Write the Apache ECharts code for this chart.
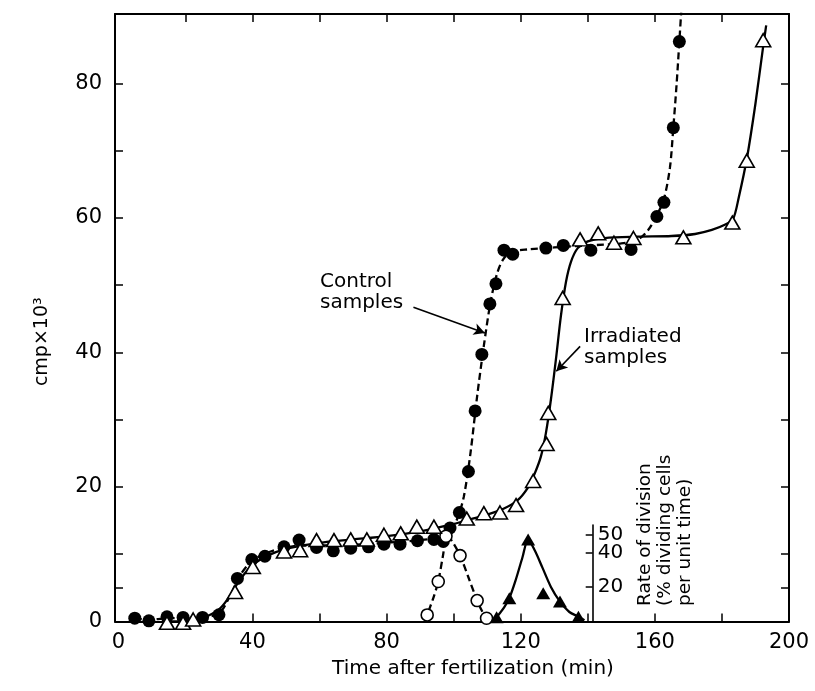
<!DOCTYPE html>
<html><head><meta charset="utf-8">
<script src="https://cdn.jsdelivr.net/npm/echarts@6/dist/echarts.min.js"></script>
<style>html,body{margin:0;padding:0;background:#fff}#c{width:815px;height:691px}</style>
</head><body><div id="c"></div>
<script>
// ---- data ----
const xLabelValues = [0, 40, 80, 120, 160, 200];
const xTickValues = [20, 40, 60, 80, 100, 120, 140, 160, 180];
const yLabelValues = [0, 20, 40, 60, 80];
const yTickValues = [5, 10, 20, 30, 40, 50, 60, 70, 80];
const rateTickValues = [20, 40, 50];
const rateLowerLabels = [20, 40];
const rateTopLabel = [50];

// Control samples (filled circles): [time min, cmp x 10^3]
const controlPoints = [[4.9,0.5],[9.1,0.1],[14.5,0.7],[19.3,0.6],[25.1,0.6],[30.0,1.0],[35.5,6.4],[39.8,9.2],[43.7,9.7],[49.4,11.1],[53.9,12.1],[59.1,11.0],[64.1,10.5],[69.3,10.9],[74.6,11.1],[79.2,11.5],[84.0,11.5],[89.2,12.0],[94.1,12.2],[96.9,11.9],[98.9,13.9],[101.7,16.2],[104.4,22.3],[106.4,31.3],[108.4,39.7],[110.8,47.2],[112.6,50.2],[115.0,55.2],[117.6,54.6],[127.5,55.5],[132.7,55.9],[140.9,55.2],[152.9,55.3],[160.6,60.2],[162.7,62.3],[165.5,73.4],[167.3,86.2]];
// Control fitted curve (dashed)
const controlCurve = [[4.9,0.4],[10,0.3],[15,0.5],[20,0.5],[25,0.6],[30,1.2],[33,3.5],[36,6.6],[39,8.6],[42,9.7],[46,10.5],[50,11.0],[55,11.3],[60,11.3],[70,11.4],[80,11.7],[90,12.1],[96,12.5],[99,13.5],[101,15.2],[103,18.5],[105,25],[107,33.5],[109,41],[111,47.5],[113,51.8],[115,54],[118,55],[122,55.3],[130,55.6],[140,55.9],[150,56.2],[155,56.8],[158,58.2],[160.5,60.3],[162.7,62.8],[164.5,67.5],[165.5,73.4],[166.5,80],[167.3,86.2],[167.9,91]];

// Irradiated samples (open triangles)
const irradiatedPoints = [[14.5,-0.2],[19.3,-0.2],[22.3,0.3],[34.8,4.4],[40.1,8.1],[49.4,10.4],[54.2,10.6],[59.1,12.1],[64.3,12.1],[69.3,12.2],[74.1,12.2],[79.2,12.9],[84.2,13.1],[89.0,14.1],[94.1,14.1],[103.9,15.3],[109.0,16.1],[113.8,16.2],[118.6,17.3],[123.7,20.9],[127.7,26.4],[128.2,31.0],[132.5,48.1],[137.7,56.8],[143.1,57.7],[147.8,56.3],[153.6,57.0],[168.5,57.1],[183.1,59.3],[187.4,68.5],[192.3,86.4]];
// Irradiated fitted curve (solid)
const irradiatedCurve = [[15,0],[20,0.1],[25,0.5],[30,1.8],[33,3.6],[36,6],[40,8.4],[45,9.9],[50,10.8],[55,11.3],[60,11.7],[70,12.2],[80,12.7],[90,13.4],[100,14.5],[105,15.2],[110,15.9],[115,16.8],[119,18],[122,19.8],[124,21.8],[126,24.5],[127.5,28],[129,33],[130.5,39],[132,45.5],[133.5,50.5],[135,53.5],[137,55.5],[140,56.5],[145,57],[155,57.2],[165,57.3],[172,57.6],[177,58.2],[181,59],[183.3,59.8],[185,63],[187.5,69],[190,77],[192.3,85.5],[193.2,88.6]];

// Rate of division (% dividing cells per unit time)
const controlRatePoints = [[92.1,3.8],[95.4,23.1],[97.7,49.3],[101.9,38.1],[107.0,12.1],[109.8,1.9]];
const controlRateCurve = [[91.4,0],[92.1,3.8],[94,14],[95.4,23.1],[96.8,38],[97.9,49],[99.3,47],[101.9,38.1],[104.5,25],[107.0,12.1],[108.6,5.5],[109.8,1.9],[110.6,0]];
const irradiatedRatePoints = [[112.8,2.4],[116.6,13.5],[122.2,47.4],[126.7,16.4],[131.7,11.5],[137.2,2.8]];
const irradiatedRateCurve = [[112.2,0],[112.8,2.4],[115,8],[116.6,13.5],[118.5,24],[120.5,37],[122.2,47.4],[124.2,41],[126.5,31],[129,20],[131.7,11.5],[134.5,5.5],[137.2,2.8],[139,0.8]];

// ---- chart ----
const FONT = 'DejaVu Sans';
const black = '#000';
const frameLine = { show: true, onZero: false, lineStyle: { color: black, width: 2 } };
const tickStyle = { color: black, width: 1.5 };
const rateLabelStyle = { fontFamily: FONT, fontSize: 20, color: black, margin: 5,
                         showMinLabel: true, showMaxLabel: true, hideOverlap: false };

const chart = echarts.init(document.getElementById('c'), null, { renderer: 'canvas' });
chart.setOption({
  animation: false,
  backgroundColor: '#fff',
  grid: [
    { left: 115, right: 26, top: 14, bottom: 69.5 },
    { left: 115, right: 26, top: 525, bottom: 69.5 }
  ],
  xAxis: [
    { gridIndex: 0, type: 'value', min: -1, max: 200, position: 'bottom',
      axisLine: frameLine, splitLine: { show: false },
      axisTick: { inside: true, length: 8, lineStyle: tickStyle, customValues: xTickValues },
      axisLabel: { customValues: xLabelValues, fontFamily: FONT, fontSize: 21, color: black, margin: 11,
                   showMinLabel: true, showMaxLabel: true },
      name: 'Time after fertilization (min)', nameLocation: 'middle', nameGap: 35,
      nameTextStyle: { fontFamily: FONT, fontSize: 20, color: black, padding: [0, 0, 0, 42] } },
    { gridIndex: 0, type: 'value', min: -1, max: 200, position: 'top',
      axisLine: frameLine, splitLine: { show: false },
      axisTick: { inside: true, length: 8, lineStyle: tickStyle, customValues: xTickValues },
      axisLabel: { show: false } },
    { gridIndex: 1, type: 'value', min: -1, max: 200, show: false }
  ],
  yAxis: [
    { gridIndex: 0, type: 'value', min: 0, max: 90.3, position: 'left',
      axisLine: frameLine, splitLine: { show: false },
      axisTick: { inside: true, length: 8, lineStyle: tickStyle, customValues: yTickValues },
      axisLabel: { customValues: yLabelValues, fontFamily: FONT, fontSize: 21, color: black, margin: 13,
                   showMinLabel: true, showMaxLabel: true },
      name: 'cmp×10³', nameLocation: 'middle', nameRotate: 90, nameGap: 63,
      nameTextStyle: { fontFamily: FONT, fontSize: 19, color: black, padding: [0, 48, 0, 0] } },
    { gridIndex: 0, type: 'value', min: 0, max: 90.3, position: 'right',
      axisLine: frameLine, splitLine: { show: false },
      axisTick: { inside: true, length: 8, lineStyle: tickStyle, customValues: yTickValues },
      axisLabel: { show: false } },
    { gridIndex: 1, type: 'value', min: 0, max: 55.8, position: 'right', offset: -196.3,
      axisLine: { show: true, onZero: false, lineStyle: { color: black, width: 1.6 } },
      splitLine: { show: false },
      axisTick: { inside: true, length: 7, lineStyle: tickStyle, customValues: rateTickValues },
      axisLabel: Object.assign({ customValues: rateLowerLabels }, rateLabelStyle) },
    { gridIndex: 1, type: 'value', min: 0, max: 55.8, position: 'right', offset: -196.3,
      axisLine: { show: false }, axisTick: { show: false }, splitLine: { show: false },
      axisLabel: Object.assign({ customValues: rateTopLabel }, rateLabelStyle) }
  ],
  graphic: [
    { type: 'text', left: 320, top: 271, silent: true,
      style: { text: 'Control\nsamples', font: '20px "DejaVu Sans"', fill: black, lineHeight: 21 } },
    { type: 'text', left: 584, top: 326, silent: true,
      style: { text: 'Irradiated\nsamples', font: '20px "DejaVu Sans"', fill: black, lineHeight: 21 } },
    { type: 'text', x: 635, y: 606, rotation: Math.PI / 2, silent: true,
      style: { text: 'Rate of division\n(% dividing cells\nper unit time)', font: '18.5px "DejaVu Sans"',
               fill: black, lineHeight: 20, align: 'left', verticalAlign: 'top' } }
  ],
  series: [
    { name: 'Control curve', type: 'line', xAxisIndex: 0, yAxisIndex: 0, data: controlCurve,
      symbol: 'none', smooth: 0.3, clip: true, z: 2,
      lineStyle: { color: black, width: 2.3, type: [7, 4] },
      markLine: { silent: true, symbol: ['none', 'arrow'], symbolSize: [9, 11], label: { show: false },
        lineStyle: { color: black, width: 1.6, type: 'solid' },
        data: [[{ coord: [88, 46.7] }, { coord: [109.3, 42.9] }]] } },
    { name: 'Irradiated curve', type: 'line', xAxisIndex: 0, yAxisIndex: 0, data: irradiatedCurve,
      symbol: 'none', smooth: 0.3, clip: true, z: 2,
      lineStyle: { color: black, width: 2.3, type: 'solid' },
      markLine: { silent: true, symbol: ['none', 'arrow'], symbolSize: [9, 11], label: { show: false },
        lineStyle: { color: black, width: 1.6, type: 'solid' },
        data: [[{ coord: [137.7, 40.9] }, { coord: [130.6, 37.2] }]] } },
    { name: 'Control rate curve', type: 'line', xAxisIndex: 2, yAxisIndex: 2, data: controlRateCurve,
      symbol: 'none', smooth: 0.3, z: 2, lineStyle: { color: black, width: 2.3, type: [7, 4] } },
    { name: 'Irradiated rate curve', type: 'line', xAxisIndex: 2, yAxisIndex: 2, data: irradiatedRateCurve,
      symbol: 'none', smooth: 0.3, z: 2, lineStyle: { color: black, width: 2.3, type: 'solid' } },
    { name: 'Control samples', type: 'scatter', xAxisIndex: 0, yAxisIndex: 0, data: controlPoints,
      symbol: 'circle', symbolSize: 13, clip: false, z: 4, itemStyle: { color: black, opacity: 1 } },
    { name: 'Irradiated samples', type: 'scatter', xAxisIndex: 0, yAxisIndex: 0, data: irradiatedPoints,
      symbol: 'triangle', symbolSize: [15, 13], clip: false, z: 5,
      itemStyle: { color: '#fff', borderColor: black, borderWidth: 1.6, opacity: 1 } },
    { name: 'Control rate', type: 'scatter', xAxisIndex: 2, yAxisIndex: 2, data: controlRatePoints,
      symbol: 'circle', symbolSize: 12, clip: false, z: 4,
      itemStyle: { color: '#fff', borderColor: black, borderWidth: 1.6, opacity: 1 } },
    { name: 'Irradiated rate', type: 'scatter', xAxisIndex: 2, yAxisIndex: 2, data: irradiatedRatePoints,
      symbol: 'triangle', symbolSize: [14, 12], clip: false, z: 4, itemStyle: { color: black, opacity: 1 } }
  ]
});
</script>
</body></html>
